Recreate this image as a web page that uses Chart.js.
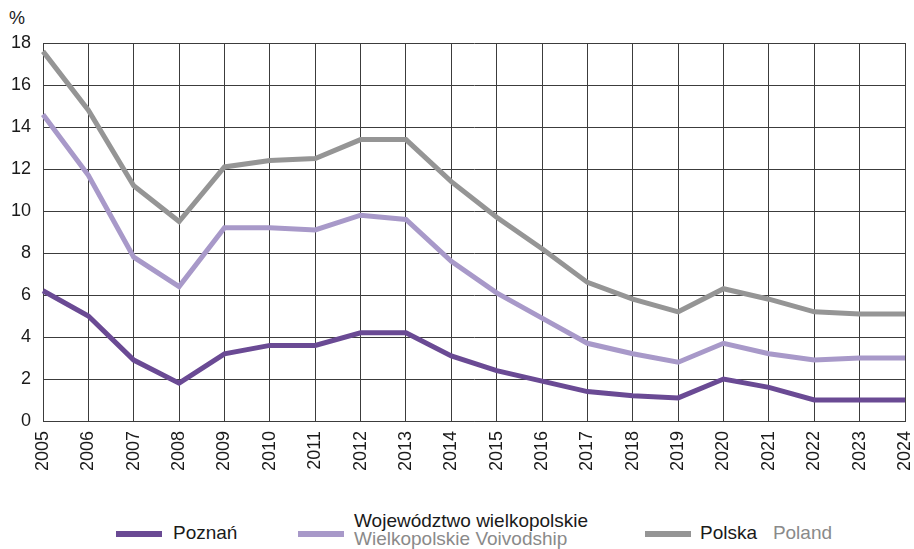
<!DOCTYPE html>
<html>
<head>
<meta charset="utf-8">
<script src="https://cdn.jsdelivr.net/npm/chart.js@4/dist/chart.umd.min.js"></script>
<style>
  body { margin: 0; background: #fff; font-family: "Liberation Sans", Arial, sans-serif; }
  #wrap { position: relative; width: 914px; height: 549px; overflow: hidden; }
  #chart-box { position: absolute; left: 0; top: 0; width: 914px; height: 500px; }
  #unit { position: absolute; left: 9px; top: 8px; font-size: 18px; color: #1a1a1a; }
  .leg { position: absolute; font-size: 19px; color: #1a1a1a; line-height: 18px; white-space: nowrap; }
  .sw { position: absolute; height: 6px; width: 46px; }
  .sub { color: #8a8a8a; }
</style>
</head>
<body>
<div id="wrap">
  <div id="unit">%</div>
  <div id="chart-box"><canvas id="rate-chart"></canvas></div>
  <div class="sw" style="left:116px; top:531px; background:#6a4a94;"></div>
  <div class="leg" style="left:173px; top:524px;">Poznań</div>
  <div class="sw" style="left:298px; top:531px; background:#a899c9;"></div>
  <div class="leg" style="left:354px; top:512px;">Województwo wielkopolskie<br><span class="sub">Wielkopolskie Voivodship</span></div>
  <div class="sw" style="left:645px; top:531px; background:#959595;"></div>
  <div class="leg" style="left:700px; top:524px;">Polska&nbsp;&nbsp; <span class="sub">Poland</span></div>
</div>
<script>
const chartCanvas = document.querySelector("#rate-chart");

const years = [
  "2005", "2006", "2007", "2008", "2009", "2010", "2011", "2012", "2013", "2014",
  "2015", "2016", "2017", "2018", "2019", "2020", "2021", "2022", "2023", "2024"
];

const poznan = [6.2, 5.0, 2.9, 1.8, 3.2, 3.6, 3.6, 4.2, 4.2, 3.1, 2.4, 1.9, 1.4, 1.2, 1.1, 2.0, 1.6, 1.0, 1.0, 1.0];
const wielkopolskie = [14.6, 11.7, 7.8, 6.4, 9.2, 9.2, 9.1, 9.8, 9.6, 7.6, 6.1, 4.9, 3.7, 3.2, 2.8, 3.7, 3.2, 2.9, 3.0, 3.0];
const polska = [17.6, 14.8, 11.2, 9.5, 12.1, 12.4, 12.5, 13.4, 13.4, 11.4, 9.7, 8.2, 6.6, 5.8, 5.2, 6.3, 5.8, 5.2, 5.1, 5.1];

const colors = ["#6a4a94", "#a899c9", "#959595"];
const gridColor = "#3c3c3c";
const tickFont = { family: "'Liberation Sans', Arial, sans-serif", size: 18 };

const makeLine = (label, values, color) => ({
  label: label,
  data: values,
  borderColor: color,
  backgroundColor: color,
  borderWidth: 5,
  pointRadius: 0,
  tension: 0,
  borderJoinStyle: "miter",
});

const renderChart = () => {
  const chartData = {
    labels: years,
    datasets: [
      makeLine("Polska", polska, colors[2]),
      makeLine("Województwo wielkopolskie", wielkopolskie, colors[1]),
      makeLine("Poznań", poznan, colors[0]),
    ],
  };
  new Chart(chartCanvas, {
    type: "line",
    data: chartData,
    options: {
      responsive: true,
      maintainAspectRatio: false,
      animation: false,
      layout: { padding: { top: 43, right: 9, left: 0, bottom: 0 } },
      plugins: { legend: { display: false }, tooltip: { enabled: false } },
      scales: {
        x: {
          offset: false,
          grid: { color: gridColor, lineWidth: 1, drawTicks: false },
          border: { color: gridColor, width: 1 },
          ticks: {
            color: "#1a1a1a",
            font: tickFont,
            maxRotation: 90,
            minRotation: 90,
            padding: 10,
            autoSkip: false,
          },
          afterFit: (axis) => {
            axis.height = 79;
            axis.paddingLeft = 0;
            axis.paddingRight = 0;
          },
        },
        y: {
          min: 0,
          max: 18,
          grid: { color: gridColor, lineWidth: 1, drawTicks: false },
          border: { color: gridColor, width: 1 },
          ticks: {
            stepSize: 2,
            color: "#1a1a1a",
            font: tickFont,
            padding: 12,
          },
          afterFit: (axis) => {
            axis.width = 43;
            axis.paddingTop = 0;
            axis.paddingBottom = 0;
          },
        },
      },
    },
  });
};

document.addEventListener("DOMContentLoaded", function () {
  renderChart();
});
</script>
</body>
</html>
